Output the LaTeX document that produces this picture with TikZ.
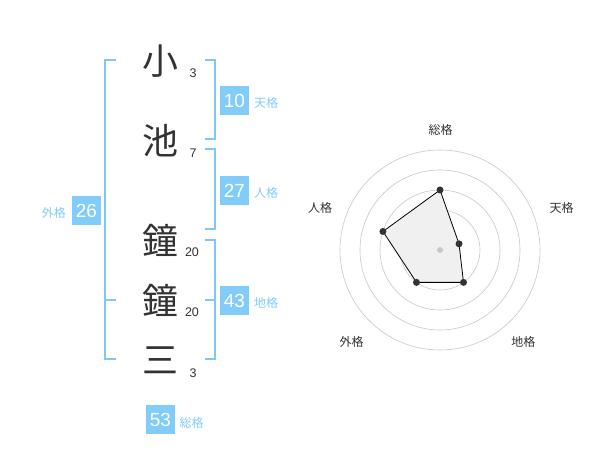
\documentclass[tikz,border=0pt]{standalone}
\usetikzlibrary{calc}
\usepackage{fontspec}
\setmainfont{Liberation Sans}
\newfontfamily\cjk{Noto Sans CJK JP}
\definecolor{kblue}{RGB}{130,204,250}
\definecolor{kline}{RGB}{125,200,245}
\definecolor{ktext}{RGB}{51,51,51}
\definecolor{kring}{RGB}{200,200,200}
\definecolor{kfill}{RGB}{240,240,240}
\begin{document}
\begin{tikzpicture}[x=1pt,y=-1pt,
  bigchar/.style={font=\cjk\fontsize{36}{36}\selectfont,text=ktext,inner sep=0pt},
  strokes/.style={font=\fontsize{12.5}{12.5}\selectfont,text=ktext,inner sep=0pt},
  numbox/.style={fill=kblue,text=white,minimum width=29pt,minimum height=29pt,inner sep=0pt,font=\fontsize{19}{19}\selectfont},
  kaku/.style={font=\cjk\fontsize{12}{12}\selectfont,text=kblue,inner sep=0pt},
  bracket/.style={draw=kline,line width=2pt},
  ring/.style={draw=kring,line width=0.6pt},
  rlabel/.style={font=\cjk\fontsize{12}{12}\selectfont,text=ktext,inner sep=0pt},
  dot/.style={circle,fill=ktext,inner sep=0pt,minimum size=7pt}]
\useasboundingbox (0,0) rectangle (600,470);
\fill[white] (0,0) rectangle (600,470);
% characters
\node[bigchar] (c1) at (160,61) {小};
\node[bigchar] (c2) at (160,141) {池};
\node[bigchar] (c3) at (160,240) {鐘};
\node[bigchar] (c4) at (160,300) {鐘};
\node[bigchar] (c5) at (160,360) {三};
\node[strokes] (s1) at (193,73) {3};
\node[strokes] (s2) at (193,153) {7};
\node[strokes] (s3) at (192,252.5) {20};
\node[strokes] (s4) at (192,312.5) {20};
\node[strokes] (s5) at (193,373) {3};
% brackets
\draw[bracket] (116,60) -- (105,60) -- (105,359.5) -- (116,359.5);
\draw[bracket] (105,300) -- (116,300);
\draw[bracket] (205,60) -- (214.5,60) -- (214.5,139.5) -- (205,139.5);
\draw[bracket] (205,149.5) -- (214.5,149.5) -- (214.5,229.5) -- (205,229.5);
\draw[bracket] (205,240) -- (214.5,240) -- (214.5,359.5) -- (205,359.5);
\draw[bracket] (205,300) -- (214.5,300);
% boxes
\node[numbox] (b10) at (234.5,100.5) {10};
\node[kaku,anchor=west] (l10) at (254,103) {天格};
\node[numbox] (b27) at (234.5,190.5) {27};
\node[kaku,anchor=west] (l27) at (254,193) {人格};
\node[numbox] (b43) at (234.5,300.5) {43};
\node[kaku,anchor=west] (l43) at (254,303) {地格};
\node[numbox] (b26) at (86.5,210.5) {26};
\node[kaku,anchor=east] (l26) at (66,213) {外格};
\node[numbox] (b53) at (160.5,419.5) {53};
\node[kaku,anchor=west] (l53) at (179.5,422.5) {総格};
% radar
\coordinate (ctr) at (440,250);
\foreach \r in {20,40,60,80,100} \draw[ring] (ctr) circle (\r);
\coordinate (p1) at ($(ctr)+(0,-60)$);
\coordinate (p2) at ($(ctr)+(19.02,-6.18)$);
\coordinate (p3) at ($(ctr)+(23.51,32.36)$);
\coordinate (p4) at ($(ctr)+(-23.51,32.36)$);
\coordinate (p5) at ($(ctr)+(-57.06,-18.54)$);
\draw[fill=kfill,draw=black,line width=0.8pt] (p1) -- (p2) -- (p3) -- (p4) -- (p5) -- cycle;
\fill[kring] (ctr) circle (3);
\foreach \p in {p1,p2,p3,p4,p5} \node[dot] at (\p) {};
\node[rlabel] (r1) at (440.7,130) {総格};
\node[rlabel] (r2) at (561.7,208) {天格};
\node[rlabel] (r3) at (523.3,342) {地格};
\node[rlabel] (r4) at (351.7,342) {外格};
\node[rlabel] (r5) at (320,208) {人格};
\end{tikzpicture}
\end{document}
